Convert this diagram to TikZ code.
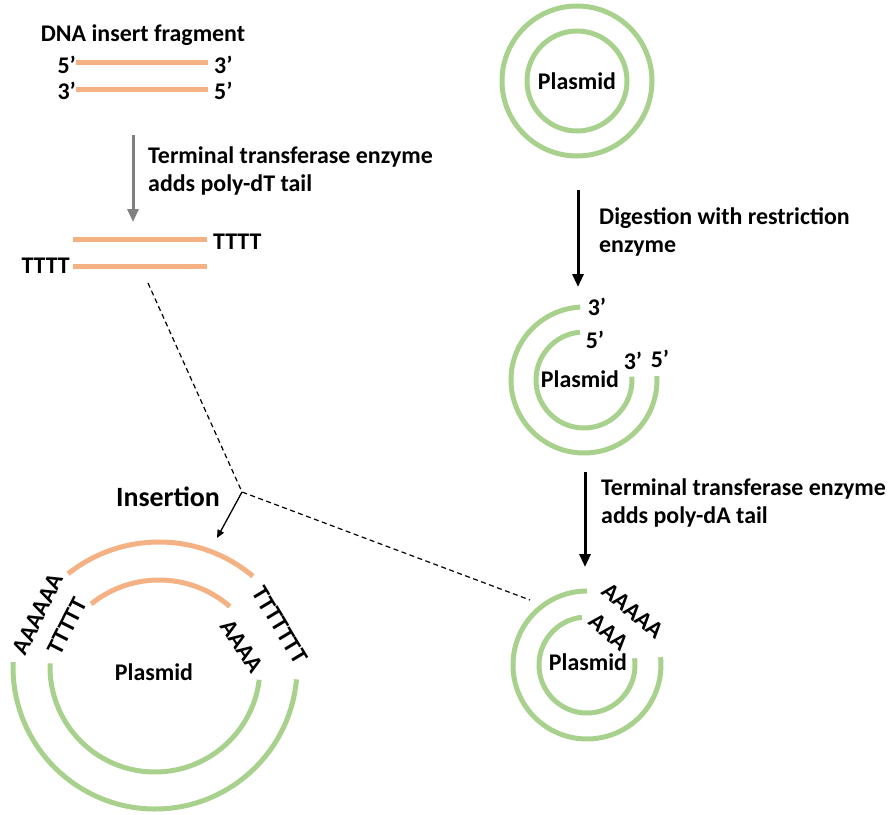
\documentclass[tikz,border=0pt]{standalone}
\usepackage{fontspec}
\setmainfont{Carlito}
\usetikzlibrary{arrows.meta}
\definecolor{dnaorange}{RGB}{244,177,131}
\definecolor{plgreen}{RGB}{169,209,142}
\definecolor{arrgray}{RGB}{128,128,128}

\begin{document}
\begin{tikzpicture}[
        x=1bp, y=1bp,
        lbl/.style={font=\fontsize{24}{28}\selectfont\bfseries, inner sep=0pt},
        txt/.style={lbl, align=left, anchor=west},
        strand/.style={dnaorange, line width=5bp},
        ring/.style={plgreen, line width=5bp},
        arrow/.style={-{Triangle[length=13bp,width=11bp]}, line width=3bp},
        link/.style={dash pattern=on 5bp off 3.5bp, line width=1.2bp}
    ]
        \useasboundingbox (0,0) rectangle (893,-815);

        % DNA insert fragment
        \node[lbl] (title) at (143,-35) {DNA insert fragment};
        \node[lbl, anchor=east] (e1l) at (76,-65) {5’};
        \node[lbl, anchor=west] (e1r) at (214,-65) {3’};
        \node[lbl, anchor=east] (e2l) at (76,-91) {3’};
        \node[lbl, anchor=west] (e2r) at (214,-91) {5’};
        \draw[strand] (76,-63) -- (208,-63);
        \draw[strand] (76,-89) -- (208,-89);

        % poly-dT tailing
        \coordinate (g1) at (133,-135);
        \coordinate (g2) at (133,-222);
        \draw[arrow, arrgray] (g1) -- (g2);
        \node[txt] (dTstep) at (148,-171) {Terminal transferase enzyme\\adds poly-dT tail};

        \draw[strand] (73,-239) -- (207,-239);
        \draw[strand] (73,-266) -- (207,-266);
        \node[lbl, anchor=west] (t1) at (213,-242) {TTTT};
        \node[lbl, anchor=east] (t2) at (70,-266) {TTTT};

        % intact plasmid
        \coordinate (p1) at (577,-81);
        \draw[ring] (p1) circle[radius=75];
        \draw[ring] (p1) circle[radius=50];
        \node[lbl] (pl1) at (p1) {Plasmid};

        \coordinate (b1) at (578,-190);
        \coordinate (b2) at (578,-287);
        \draw[arrow] (b1) -- (b2);
        \node[txt] (digest) at (599,-232) {Digestion with restriction\\enzyme};

        % cut plasmid
        \coordinate (p2) at (584,-380);
        \draw[ring] (p2) ++(93:73) arc[start angle=93, end angle=363, radius=73];
        \draw[ring] (p2) ++(95:48) arc[start angle=95, end angle=364, radius=48];
        \node[lbl] (pl2) at (580,-379) {Plasmid};
        \node[lbl] (c1) at (597,-307) {3’};
        \node[lbl] (c2) at (595,-340) {5’};
        \node[lbl] (c3) at (633,-361) {3’};
        \node[lbl] (c4) at (660,-359) {5’};

        \coordinate (b3) at (585,-472);
        \coordinate (b4) at (585,-567);
        \draw[arrow] (b3) -- (b4);
        \node[txt] (dAstep) at (601,-503) {Terminal transferase enzyme\\adds poly-dA tail};

        % poly-dA tailed plasmid
        \coordinate (p3) at (587,-665);
        \draw[ring] (p3) ++(90:74) arc[start angle=90, end angle=366, radius=74];
        \draw[ring] (p3) ++(96:48) arc[start angle=96, end angle=368, radius=48];
        \node[lbl] (pl3) at (588,-662) {Plasmid};
        \node[lbl, rotate=-40] (a1) at (633,-611) {AAAAA};
        \node[lbl, rotate=-41] (a2) at (609,-632) {AAA};

        % recombinant plasmid
        \coordinate (p4) at (155,-667);
        \coordinate (p5) at (159,-688);
        \draw[ring] (p4) ++(178:142) arc[start angle=178, end angle=355, radius=142];
        \draw[ring] (p4) ++(178:105) arc[start angle=178, end angle=353, radius=105];
        \draw[strand] (p5) ++(128.5:146) arc[start angle=128.5, end angle=50, radius=146];
        \draw[strand] (p5) ++(129:108) arc[start angle=129, end angle=49, radius=108];
        \node[lbl] (pl4) at (154,-672) {Plasmid};
        \node[lbl, rotate=64] (r1) at (38,-614) {AAAAAA};
        \node[lbl, rotate=63] (r2) at (67,-626) {TTTTT};
        \node[lbl, rotate=-56] (r3) at (242,-646) {AAAA};
        \node[lbl, rotate=-59] (r4) at (280,-625) {TTTTTTT};

        % insertion links
        \coordinate (d1) at (148,-283);
        \coordinate (j) at (242,-492);
        \coordinate (d2) at (530,-600);
        \coordinate (ins) at (217,-538);
        \draw[link] (d1) -- (j) -- (d2);
        \draw[-{Triangle[length=8bp,width=7bp]}, line width=1.3bp] (j) -- (ins);
        \node[lbl, font=\fontsize{28}{32}\selectfont\bfseries] (insert) at (168,-497) {Insertion};

    \end{tikzpicture}
\end{document}
